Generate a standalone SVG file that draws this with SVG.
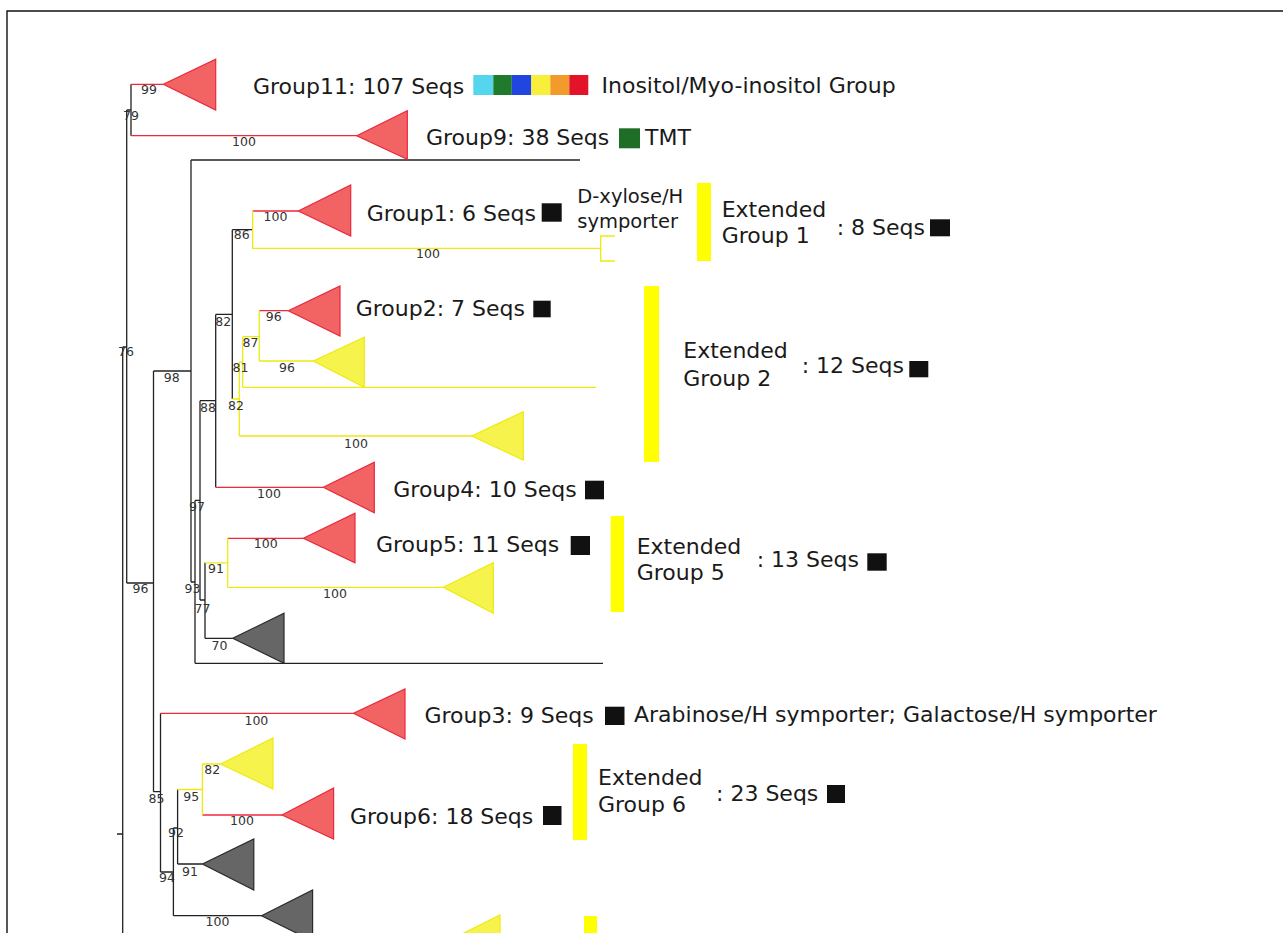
<svg xmlns="http://www.w3.org/2000/svg" width="1283" height="933" viewBox="0 0 1283 933">
  <style>
    .k{stroke:#222;stroke-width:1.3;fill:none}
    .r{stroke:#ee2a3a;stroke-width:1.3;fill:none}
    .y{stroke:#eeea10;stroke-width:1.3;fill:none}
    .tr{fill:#f26464;stroke:#e8283c;stroke-width:1.2}
    .ty{fill:#f6f34c;stroke:#eeea10;stroke-width:1.2}
    .tg{fill:#666;stroke:#2a2a2a;stroke-width:1.2}
    .bar{fill:#ffff00}
    .sq{fill:#111}
    .bs{font-family:"DejaVu Sans","Liberation Sans",sans-serif;font-size:12.5px;fill:#333;text-anchor:middle}
    .lb{font-family:"DejaVu Sans","Liberation Sans",sans-serif;font-size:22px;fill:#1a1a1a}
  </style>
  <rect width="1283" height="933" fill="#fff"/>
  <path d="M7,933 V11 H1283" stroke="#111" stroke-width="1.4" fill="none"/>

  <!-- branches of the tree -->
  <g id="connectors">
    <path class="k" d="M122.7,347 V933 M117,834 H122.7 M122.7,347 H126.7 M126.7,110 V583
      M126.7,110 H131 M131,84.3 V135.7
      M126.7,583 H153.5 M153.5,371 V791.7
      M153.5,371 H191 M191,160 V582 M191,160 H580
      M191,582 H195 M195,500.4 V663.3 M195,663.3 H603
      M195,500.4 H200 M200,400.7 V600
      M200,400.7 H215.7 M215.7,314.4 V487.3
      M215.7,314.4 H232.3 M232.3,229.7 V399
      M232.3,229.7 H252.7
      M200,600 H205 M205,562.8 V638.3 M205,638.3 H232.7
      M153.5,791.7 H160.5 M160.5,713.3 V872
      M160.5,872 H173.4 M173.4,828 V915.7 M173.4,915.7 H261.5
      M173.4,828 H177.6 M177.6,789.5 V864 M177.6,864 H202.4"/>
    <path class="r" d="M131,84.3 H163.3 M131,135.7 H356.7 M252.7,211 H298.3 M259.3,310.7 H288.3
      M215.7,487.3 H323.3 M227.7,538.3 H303.3 M160.5,713.3 H353.5 M202.4,815 H282"/>
    <path class="y" d="M252.7,211 V248.3 H600.7 M615,236 H600.7 V261 H615
      M232.3,399 H239.3 M239.3,362 V436 M239.3,436 H471.7
      M239.3,362 H242.7 M242.7,336.7 V387.3 M242.7,387.3 H596
      M242.7,336.7 H259.3 M259.3,310.7 V361 M259.3,361 H313.3
      M205,562.8 H227.7 M227.7,538.3 V587.3 M227.7,587.3 H443.3
      M177.6,789.5 H202.4 M202.4,764 V815 M202.4,764 H220.6"/>
    <!-- bootstrap support values -->
    <g class="bs">
      <text x="149" y="94">99</text>
      <text x="131" y="120">79</text>
      <text x="244" y="146">100</text>
      <text x="275.5" y="220.7">100</text>
      <text x="241.7" y="239.3">86</text>
      <text x="428" y="258">100</text>
      <text x="223.3" y="325.7">82</text>
      <text x="273.7" y="320.7">96</text>
      <text x="250.5" y="346.7">87</text>
      <text x="240.5" y="372">81</text>
      <text x="287" y="372">96</text>
      <text x="126" y="356">76</text>
      <text x="171.7" y="381.7">98</text>
      <text x="208" y="411.7">88</text>
      <text x="236" y="410">82</text>
      <text x="356" y="448">100</text>
      <text x="269" y="498">100</text>
      <text x="197" y="510.7">97</text>
      <text x="265.7" y="548">100</text>
      <text x="216" y="573">91</text>
      <text x="335" y="598">100</text>
      <text x="140.5" y="592.7">96</text>
      <text x="192.5" y="592.7">93</text>
      <text x="202.5" y="612.7">77</text>
      <text x="219.5" y="650">70</text>
      <text x="256.4" y="725">100</text>
      <text x="212.3" y="774">82</text>
      <text x="156.5" y="802.7">85</text>
      <text x="191.3" y="800.7">95</text>
      <text x="242" y="825">100</text>
      <text x="176" y="837.3">92</text>
      <text x="190" y="876">91</text>
      <text x="167" y="881.7">94</text>
      <text x="217.5" y="926">100</text>
    </g>
  </g>

  <g id="group11">
    <polygon class="tr" points="163.3,84.3 215.7,59.3 215.7,110"/>
    <text class="lb" x="253" y="93.5">Group11: 107 Seqs</text>
    <rect x="473.3" y="75" width="20" height="20" fill="#56d6ee"/>
    <rect x="493.3" y="75" width="18.5" height="20" fill="#1f7a2c"/>
    <rect x="511.8" y="75" width="19.5" height="20" fill="#2146e0"/>
    <rect x="531.3" y="75" width="19" height="20" fill="#f7ef3a"/>
    <rect x="550.3" y="75" width="19" height="20" fill="#f29a2a"/>
    <rect x="569.3" y="75" width="19" height="20" fill="#e3142a"/>
    <text class="lb" x="601.5" y="93.3">Inositol/Myo-inositol Group</text>
  </g>

  <g id="group9">
    <polygon class="tr" points="356.7,135.7 407.3,110.7 407.3,159.3"/>
    <text class="lb" x="426" y="145">Group9: 38 Seqs</text>
    <rect x="619" y="128.3" width="21" height="20" fill="#1e6e28"/>
    <text class="lb" x="645" y="145">TMT</text>
  </g>

  <g id="group1">
    <polygon class="tr" points="298.3,211 350.7,185 350.7,236"/>
    <text class="lb" x="366.7" y="221">Group1: 6 Seqs</text>
    <rect class="sq" x="541.7" y="203.3" width="20" height="18.4"/>
    <text class="lb" x="577.3" y="203.3" style="font-size:19.5px">D-xylose/H</text>
    <text class="lb" x="577.3" y="228.3" style="font-size:19.5px">symporter</text>
  </g>

  <g id="extended-group1">
    <rect class="bar" x="697" y="183" width="14" height="78"/>
    <text class="lb" x="721.7" y="216.7">Extended</text>
    <text class="lb" x="721.7" y="242.7">Group 1</text>
    <text class="lb" x="836.7" y="235">: 8 Seqs</text>
    <rect class="sq" x="930" y="219.3" width="20" height="17"/>
  </g>

  <g id="group2">
    <polygon class="tr" points="288.3,310.7 340,286 340,336"/>
    <text class="lb" x="355.7" y="316">Group2: 7 Seqs</text>
    <rect class="sq" x="533.3" y="300.7" width="17.4" height="16.6"/>
  </g>

  <g id="extended-group2">
    <polygon class="ty" points="313.3,361 364.3,337.3 364.3,387.3"/>
    <polygon class="ty" points="471.7,436 523.3,411.7 523.3,460"/>
    <rect class="bar" x="644" y="286" width="15" height="176"/>
    <text class="lb" x="683.3" y="358.3">Extended</text>
    <text class="lb" x="683.3" y="386">Group 2</text>
    <text class="lb" x="801.7" y="373.3">: 12 Seqs</text>
    <rect class="sq" x="909.3" y="361" width="19" height="16.3"/>
  </g>

  <g id="group4">
    <polygon class="tr" points="323.3,487.3 374.3,462.3 374.3,512.7"/>
    <text class="lb" x="393.3" y="497">Group4: 10 Seqs</text>
    <rect class="sq" x="585" y="480.7" width="19" height="18.6"/>
  </g>

  <g id="group5">
    <polygon class="tr" points="303.3,538.3 355,513.3 355,562.7"/>
    <text class="lb" x="376" y="552">Group5: 11 Seqs</text>
    <rect class="sq" x="570.7" y="536" width="19.3" height="19"/>
  </g>

  <g id="extended-group5">
    <polygon class="ty" points="443.3,587.3 493.3,562.7 493.3,613.3"/>
    <rect class="bar" x="610.7" y="516" width="13.3" height="96"/>
    <text class="lb" x="636.7" y="554">Extended</text>
    <text class="lb" x="636.7" y="580">Group 5</text>
    <text class="lb" x="756.7" y="566.7">: 13 Seqs</text>
    <rect class="sq" x="867.3" y="553.3" width="19.4" height="17.4"/>
  </g>

  <g id="clade-grey-a">
    <polygon class="tg" points="232.7,638.3 284,613.3 284,663.3"/>
  </g>

  <g id="group3">
    <polygon class="tr" points="353.5,713.3 405,689 405,739"/>
    <text class="lb" x="424.5" y="723">Group3: 9 Seqs</text>
    <rect class="sq" x="605" y="706.7" width="19.5" height="18.3"/>
    <text class="lb" x="634" y="722">Arabinose/H symporter; Galactose/H symporter</text>
  </g>

  <g id="group6">
    <polygon class="tr" points="282,815 333.6,788 333.6,839"/>
    <text class="lb" x="350" y="824">Group6: 18 Seqs</text>
    <rect class="sq" x="543" y="806" width="18.5" height="19"/>
  </g>

  <g id="extended-group6">
    <polygon class="ty" points="220.6,764 273,738 273,789"/>
    <rect class="bar" x="573" y="744" width="14" height="96"/>
    <text class="lb" x="598" y="785">Extended</text>
    <text class="lb" x="598" y="812">Group 6</text>
    <text class="lb" x="716" y="801">: 23 Seqs</text>
    <rect class="sq" x="827" y="785" width="18" height="18"/>
  </g>

  <g id="clade-grey-b">
    <polygon class="tg" points="202.4,864 253.8,839 253.8,890"/>
  </g>

  <g id="clade-grey-c">
    <polygon class="tg" points="261.5,915.7 312.6,890 312.6,941"/>
  </g>

  <g id="clade-yellow-bottom">
    <polygon class="ty" points="450,940 500,915 500,965"/>
    <rect class="bar" x="584" y="916" width="13" height="20"/>
  </g>
</svg>
